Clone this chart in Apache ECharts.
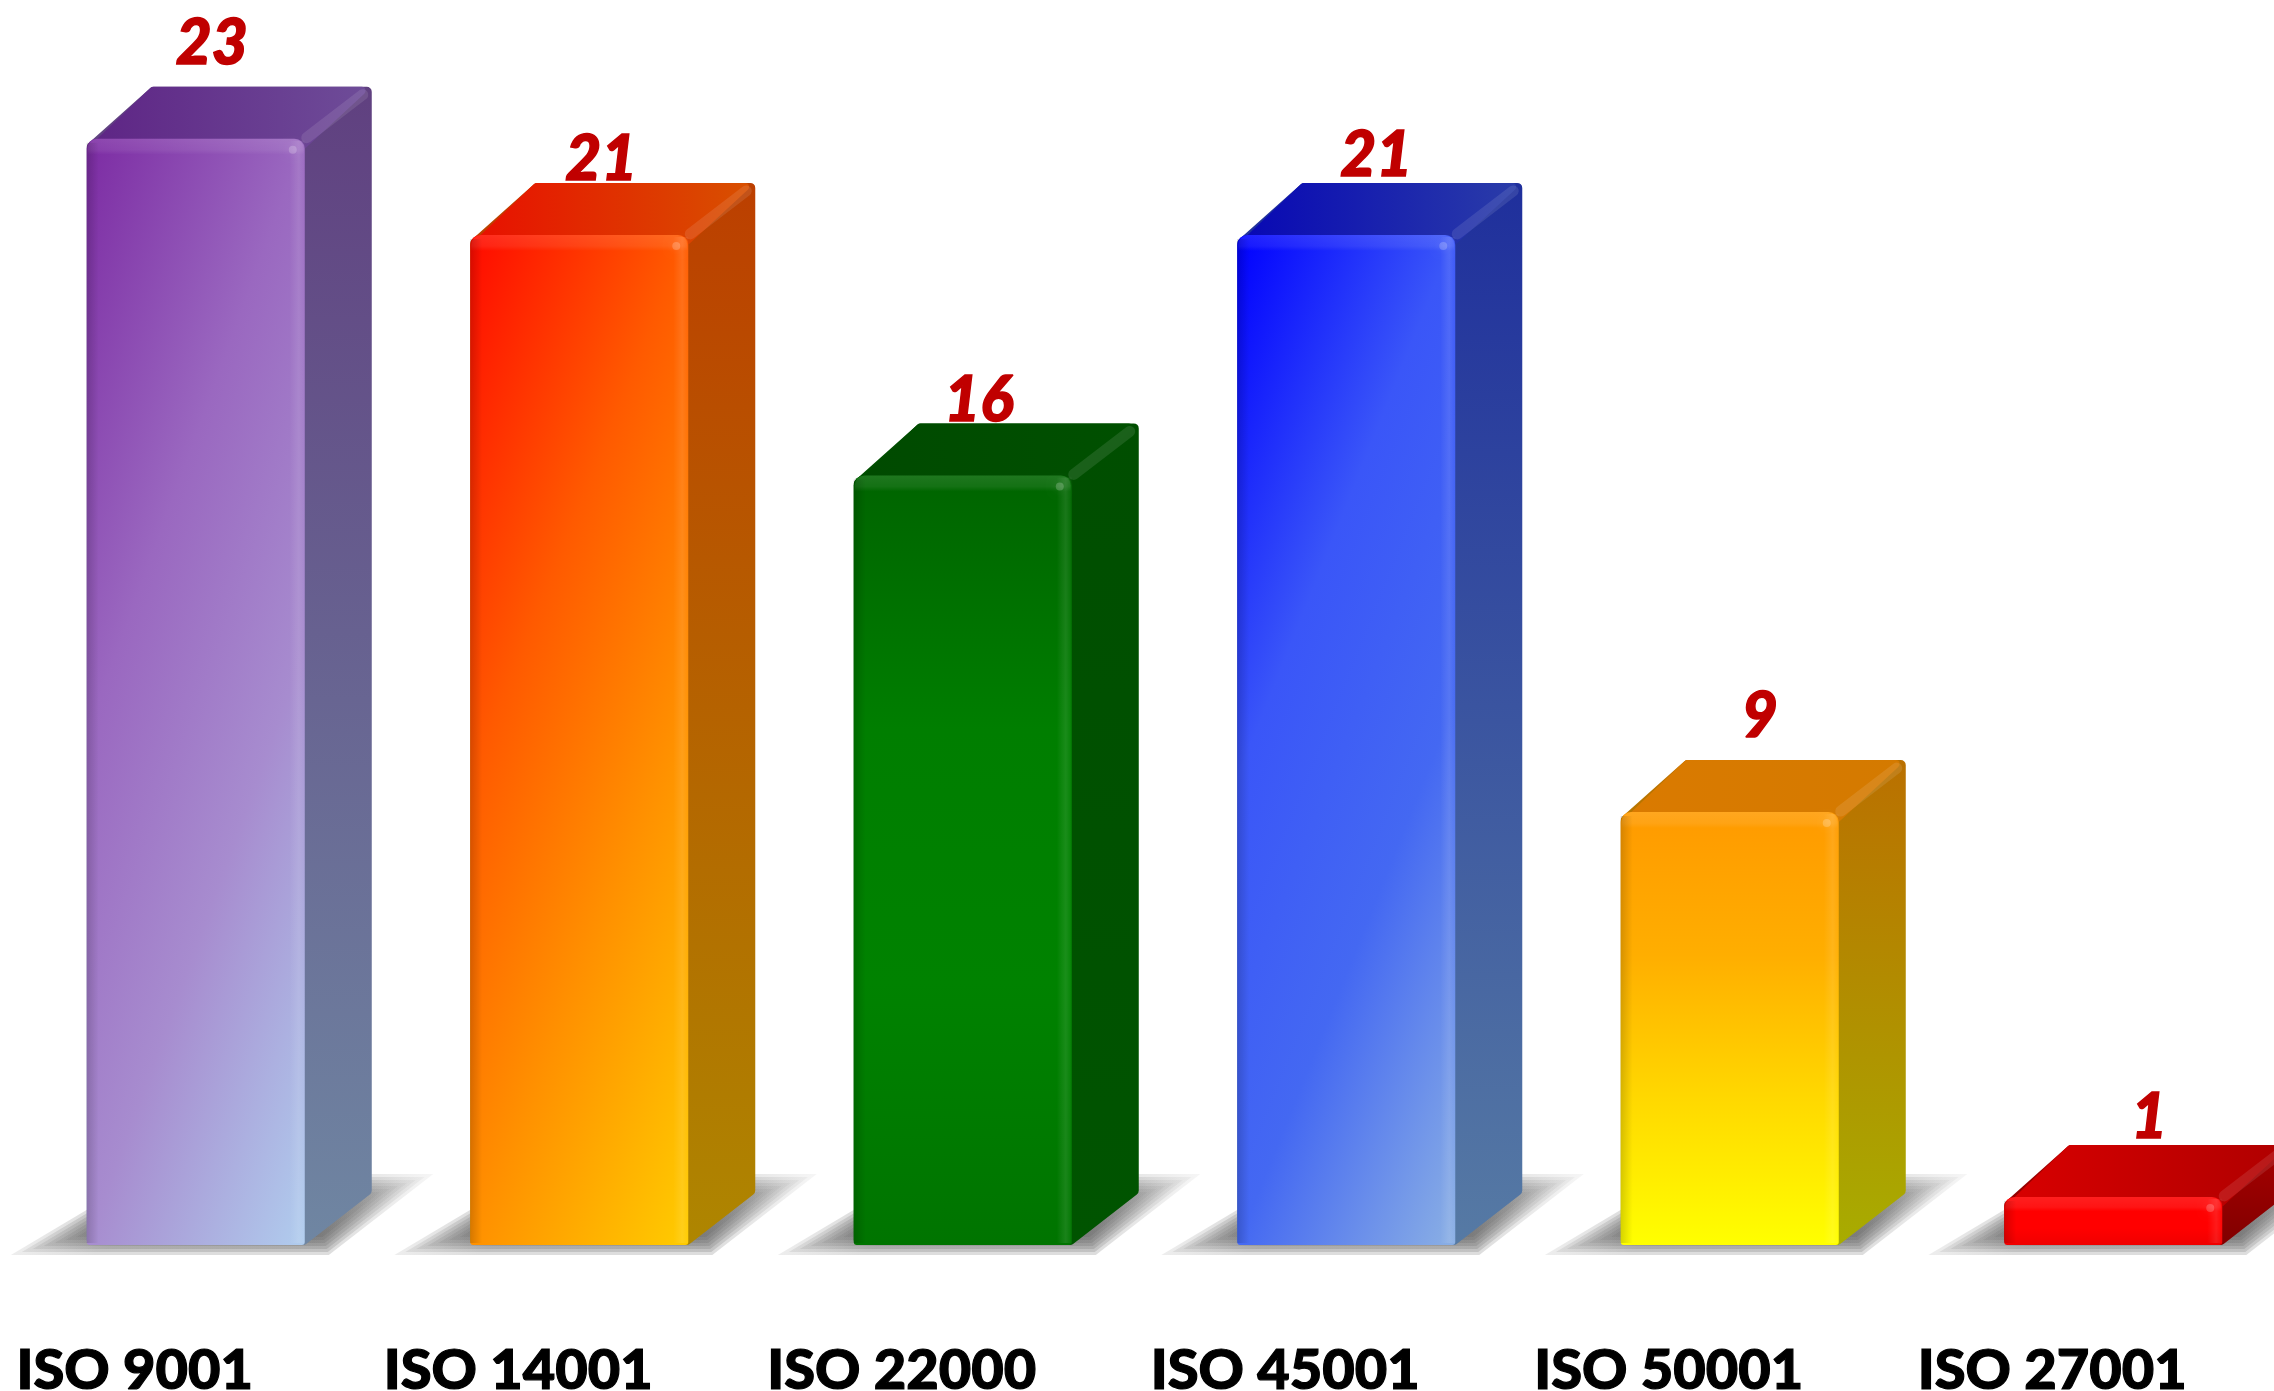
<!DOCTYPE html>
<html><head><meta charset="utf-8">
<style>html,body{margin:0;padding:0;background:#fff}#c{width:2274px;height:1391px}</style>
<script src="https://cdn.jsdelivr.net/npm/echarts@6/dist/echarts.min.js"></script>
</head><body><div id="c"></div>
<script>
const categories = ['ISO 9001','ISO 14001','ISO 22000','ISO 45001','ISO 50001','ISO 27001'];
const values = [23,21,16,21,9,1];

// styling, separate from the data
const frontColors = [
  ['#7C2BA3','#9A68C0','#A78CCF','#B0CDEE'],
  ['#FF0A00','#FF5A00','#FF9000','#FFCC00'],
  ['#006400','#007E00','#008200','#007400'],
  ['#0000FF','#3A56F8','#4468F2','#8BB0E4'],
  ['#FF9A00','#FFAE00','#FFD800','#FFFF00'],
  ['#FF0000','#FF0000','#FF0000','#F00000']
];
const diagonal = [true,true,false,true,false,false];
const sideColors = [
  ['#604080','#6F86A2'],['#BC3F00','#AE8600'],['#004E00','#005400'],
  ['#1F2F9C','#567AA4'],['#BA7000','#A8AC00'],['#A80000','#800000']
];
const topColors = [
  ['#5E2585','#6E4C98'],['#E81000','#D85000'],['#004A00','#005000'],
  ['#0808B4','#2A3CA8'],['#DA7A00','#D47A00'],['#D80000','#B00000']
];
const labelShift = [[16,-20],[22,0],[16,1],[30,-4],[30,-20],[36,-4]];
const barRatio = 0.5685, depthX = 67, depthY = 52;
const LG = echarts.graphic.LinearGradient;

function inset(pts, d){
  const n = pts.length, out = [];
  let area = 0;
  for(let i=0;i<n;i++){const a=pts[i],b=pts[(i+1)%n];area+=a[0]*b[1]-b[0]*a[1];}
  const s = area>0?1:-1;
  for(let i=0;i<n;i++){
    const p=pts[(i+n-1)%n],c=pts[i],q=pts[(i+1)%n];
    let ax=c[0]-p[0],ay=c[1]-p[1],bx=q[0]-c[0],by=q[1]-c[1];
    const la=Math.hypot(ax,ay),lb=Math.hypot(bx,by);ax/=la;ay/=la;bx/=lb;by/=lb;
    const na=[-ay*s,ax*s],nb=[-by*s,bx*s];
    const A=[c[0]+na[0]*d,c[1]+na[1]*d],B=[c[0]+nb[0]*d,c[1]+nb[1]*d];
    const den=ax*by-ay*bx;
    const t=((B[0]-A[0])*by-(B[1]-A[1])*bx)/den;
    out.push([A[0]+ax*t,A[1]+ay*t]);
  }
  return out;
}
function face(pts, fill, r){
  return {type:'polygon',shape:{points:inset(pts,r)},
    style:{fill:fill,stroke:fill,lineWidth:r*2,lineJoin:'round'}};
}
function frame(params, api){
  const i = api.value(0), top = api.coord([i, api.value(1)]), base = api.coord([i, 0]);
  const w = api.size([1,0])[0]*barRatio;
  return {i, x0:top[0]-w/2, x1:top[0]+w/2, yt:top[1], yb:base[1], w, h:base[1]-top[1]};
}
function renderShadow(params, api){
  const f = frame(params, api);
  const by = f.yb+4, ty = f.yb-depthY-13;
  const pts = [[f.x0-54,by],[f.x1+22,by],[f.x1+depthX+44,ty],[f.x0+62,ty]];
  const ch = [];
  for(let d=-6;d<=12;d+=3){
    const a=0.2;
    ch.push({type:'polygon',shape:{points:inset(pts,d)},
      style:{fill:new LG(0,0,1,0,[
        {offset:0,color:'rgba(85,85,85,'+a*0.5+')'},{offset:0.2,color:'rgba(85,85,85,'+a+')'},
        {offset:0.75,color:'rgba(85,85,85,'+a+')'},{offset:1,color:'rgba(85,85,85,'+a*0.25+')'}])}});
  }
  return {type:'group',children:ch};
}
function renderBar(params, api){
  const f = frame(params, api), c = f.i;
  const {x0,x1,yt,yb,w,h} = f;
  const fc = frontColors[c];
  let fill;
  if(diagonal[c]){
    // colour changes by 0.35 across the width and 0.65 down the height
    const gx=0.35/w, gy=0.65/h, g2=gx*gx+gy*gy;
    fill = new LG(0,0,(gx/g2)/w,(gy/g2)/h,[
      {offset:0,color:fc[0]},{offset:0.35,color:fc[1]},{offset:0.65,color:fc[2]},{offset:1,color:fc[3]}]);
  } else {
    fill = new LG(0,0,0,1,[
      {offset:0,color:fc[0]},{offset:0.33,color:fc[1]},{offset:0.66,color:fc[2]},{offset:1,color:fc[3]}]);
  }
  const outline = [[x0,yt+6],[x0+depthX-2,yt-depthY],[x1+depthX,yt-depthY],[x1+depthX,yb-depthY],[x1,yb],[x0,yb]];
  const topF = [[x0,yt+10],[x0+depthX-2,yt-depthY],[x1+depthX,yt-depthY],[x1,yt+10]];
  const sh = Math.min(16,h*0.3);
  const ch = [
    face(outline,new LG(0,0,0,1,[{offset:0,color:sideColors[c][0]},{offset:1,color:sideColors[c][1]}]),5),
    face(topF,new LG(0,0,1,0,[{offset:0,color:topColors[c][0]},{offset:1,color:topColors[c][1]}]),4),
    {type:'line',shape:{x1:x1+2,y1:yt-1,x2:x1+depthX-9,y2:yt-depthY+8},
      style:{stroke:'rgba(255,255,255,0.10)',lineWidth:11,lineCap:'round'}},
    {type:'rect',shape:{x:x0,y:yt,width:w,height:h,r:[10,10,3,3]},style:{fill:fill}},
    {type:'rect',shape:{x:x0+1,y:yt,width:w-2,height:sh,r:[10,10,0,0]},
      style:{fill:new LG(0,0,0,1,[{offset:0,color:'rgba(255,255,255,0.12)'},{offset:0.7,color:'rgba(255,255,255,0.08)'},{offset:1,color:'rgba(255,255,255,0)'}])}},
    {type:'rect',shape:{x:x1-15,y:yt+2,width:15,height:h-4},
      style:{fill:new LG(0,0,1,0,[{offset:0,color:'rgba(255,255,255,0)'},{offset:0.6,color:'rgba(255,255,255,0.10)'},{offset:1,color:'rgba(255,255,255,0.02)'}])}},
    {type:'rect',shape:{x:x0,y:yt+4,width:12,height:h-6},
      style:{fill:new LG(0,0,1,0,[{offset:0,color:'rgba(0,0,0,0.16)'},{offset:1,color:'rgba(0,0,0,0)'}])}},
    {type:'circle',shape:{cx:x1-12,cy:yt+11,r:4},
      style:{fill:'rgba(255,255,255,0.2)',shadowBlur:8,shadowColor:'rgba(255,255,255,0.5)'}},
    {type:'text',x:(x0+x1)/2+labelShift[c][0],y:yt-depthY+labelShift[c][1],
      style:{text:String(api.value(1)),fill:'#C00000',stroke:'#C00000',lineWidth:1.5,font:'italic 900 62px Lato',
        textAlign:'center',textVerticalAlign:'bottom',lineHeight:46,height:46}}
  ];
  return {type:'group',children:ch};
}
const chart = echarts.init(document.getElementById('c'),null,{renderer:'canvas'});
const rows = values.map((v,i)=>[i,v]);
chart.setOption({
  animation:false,
  backgroundColor:'#ffffff',
  grid:{left:4,width:2301,top:42.5,height:1202.5,outerBoundsMode:'none',containLabel:false},
  xAxis:{type:'category',data:categories,axisLine:{show:false},axisTick:{show:false},
    axisLabel:{color:'#000',fontFamily:'Lato',fontWeight:900,fontSize:56,margin:104,
      textBorderColor:'#000',textBorderWidth:1.2,
      padding:[0,122,0,0],interval:0,hideOverlap:false,lineHeight:44}},
  yAxis:{type:'value',min:0,max:25,show:false,splitLine:{show:false}},
  series:[
    {type:'custom',data:rows,renderItem:renderShadow,clip:false,silent:true,z:1,encode:{x:0,y:1}},
    {type:'custom',data:rows,renderItem:renderBar,clip:false,silent:true,z:2,encode:{x:0,y:1}}
  ]
});
</script></body></html>
